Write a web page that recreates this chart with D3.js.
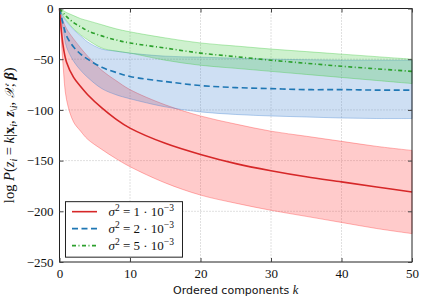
<!DOCTYPE html>
<html>
<head>
<meta charset="utf-8">
<script src="https://cdn.jsdelivr.net/npm/d3@7"></script>
<style>
  body { margin: 0; background: #fff; }
  svg text { font-family: "Liberation Serif", "DejaVu Serif", serif; }
</style>
</head>
<body>
<div id="chart"></div>
<script>
// ordered components k
var ks = [0, 0.5, 1, 2, 3, 4, 6, 8, 10, 15, 20, 25, 30, 35, 40, 45, 50];

// sigma^2 = 1e-3
var redMean = [0, -36, -53, -68, -77, -85, -98, -109, -118, -133, -144, -153, -160, -166, -171, -176, -181];
var redLo   = [0, -55, -90, -112, -121, -129, -139, -148, -156, -172, -184, -192, -199, -205, -211, -217, -222];
var redHi   = [0, -12, -20, -30, -39, -47, -61, -71, -80, -95, -106, -114, -121, -126, -131, -136, -140];

// sigma^2 = 2e-3
var blueMean = [0, -15, -27, -38, -45, -50, -58, -63, -67, -72, -76, -78, -79, -80, -80, -80.5, -80.5];
var blueLo   = [0, -20, -38, -52, -61, -68, -79, -85, -89, -97, -102, -104.5, -106, -107, -108, -108.5, -108.5];
var blueHi   = [0, -8, -13, -21, -27, -33, -40, -42, -44, -47, -48, -49, -50, -50.5, -51, -51, -51];

// sigma^2 = 5e-3
var greenMean = [0, -4, -8, -14, -18, -22, -27, -31, -34, -39, -44, -47.5, -51, -54, -57, -59.5, -62];
var greenLo   = [0, -7, -12, -20, -26, -31, -39, -42, -44, -51, -56, -59, -62, -65, -68, -71, -74];
var greenHi   = [0, -2, -4, -7, -10, -12, -16, -20, -23, -29, -34, -37, -40, -42.5, -45, -47.5, -50];

var xTicks = [0, 10, 20, 30, 40, 50];
var yTicks = [0, -50, -100, -150, -200, -250];
var legendExp = ["1", "2", "5"];

var cfg = {
  w: 425, h: 298,
  margin: {top: 8.5, right: 13, bottom: 36, left: 59.5}
};
var graphW = cfg.w - cfg.margin.left - cfg.margin.right;
var graphH = cfg.h - cfg.margin.top - cfg.margin.bottom;

var svg = d3.select("#chart").append("svg")
  .attr("width", cfg.w)
  .attr("height", cfg.h)
  .append("g")
  .attr("transform", "translate(" + cfg.margin.left + "," + cfg.margin.top + ")");

var x = d3.scaleLinear().domain([0, 50]).range([0, graphW]);
var y = d3.scaleLinear().domain([-250, 0]).range([graphH, 0]);

// grid
svg.append("g").selectAll("line").data(xTicks.slice(1, -1)).join("line")
  .attr("x1", d => x(d)).attr("x2", d => x(d))
  .attr("y1", 0).attr("y2", graphH)
  .attr("stroke", "#b0b0b0").attr("stroke-width", 0.8).attr("stroke-dasharray", "1,2");
svg.append("g").selectAll("line").data(yTicks.slice(1, -1)).join("line")
  .attr("y1", d => y(d)).attr("y2", d => y(d))
  .attr("x1", 0).attr("x2", graphW)
  .attr("stroke", "#b0b0b0").attr("stroke-width", 0.8).attr("stroke-dasharray", "1,2");

var series = [
  {mean: redMean, lo: redLo, hi: redHi, color: "#d62728", fill: "#ff3030", dash: null},
  {mean: blueMean, lo: blueLo, hi: blueHi, color: "#1f77b4", fill: "#3c7fd0", dash: "6,3.5"},
  {mean: greenMean, lo: greenLo, hi: greenHi, color: "#2ca02c", fill: "#3cc83c", dash: "4,2.5,1,2.5"}
];

var curve = d3.curveCatmullRom.alpha(0.5);
var area = d3.area().curve(curve)
  .x((d, i) => x(ks[i]));
var line = d3.line().curve(curve)
  .x((d, i) => x(ks[i]))
  .y(d => y(d));

series.forEach(function(s) {
  var idx = ks.map((k, i) => i);
  svg.append("path")
    .datum(idx)
    .attr("fill", s.fill)
    .attr("fill-opacity", 0.25)
    .attr("stroke", s.fill)
    .attr("stroke-opacity", 0.45)
    .attr("stroke-width", 0.8)
    .attr("d", area.y0(i => y(s.lo[i])).y1(i => y(s.hi[i])));
});

series.forEach(function(s) {
  svg.append("path")
    .datum(s.mean)
    .attr("fill", "none")
    .attr("stroke", s.color)
    .attr("stroke-width", 1.6)
    .attr("stroke-dasharray", s.dash)
    .attr("d", line);
});

// frame
svg.append("rect")
  .attr("width", graphW).attr("height", graphH)
  .attr("fill", "none").attr("stroke", "#222").attr("stroke-width", 1);

// axes with inward ticks
var xAxis = svg.append("g")
  .attr("transform", "translate(0," + graphH + ")")
  .call(d3.axisBottom(x).tickValues(xTicks).tickSize(-4).tickPadding(7)
    .tickFormat(d => d < 0 ? "\u2212" + (-d) : d));
var yAxis = svg.append("g")
  .call(d3.axisLeft(y).tickValues(yTicks).tickSize(-4).tickPadding(6)
    .tickFormat(d => d < 0 ? "\u2212" + (-d) : d));
svg.append("g")
  .call(d3.axisTop(x).tickValues(xTicks).tickSize(-4).tickFormat(""));
svg.append("g").attr("transform", "translate(" + graphW + ",0)")
  .call(d3.axisRight(y).tickValues(yTicks).tickSize(-4).tickFormat(""));

svg.selectAll(".domain").remove();
svg.selectAll(".tick line").attr("stroke", "#444");
svg.selectAll(".tick text")
  .attr("font-family", "'Liberation Serif', serif")
  .attr("font-size", "13px")
  .attr("fill", "#111");

// x label
svg.append("text")
  .attr("x", graphW / 2).attr("y", graphH + 32)
  .attr("text-anchor", "middle")
  .style("font-family", "'DejaVu Sans', sans-serif")
  .attr("font-size", "11px")
  .attr("fill", "#111")
  .html("Ordered components <tspan font-family=\"Liberation Serif\" font-style=\"italic\" font-size=\"12.5px\">k</tspan>");

// y label
var yl = svg.append("text")
  .attr("transform", "translate(" + (-46) + "," + (graphH / 2) + ") rotate(-90)")
  .attr("text-anchor", "middle")
  .attr("font-size", "14.5px")
  .attr("fill", "#111");
yl.append("tspan").text("log ");
yl.append("tspan").attr("font-style", "italic").text("P");
yl.append("tspan").text("(");
yl.append("tspan").attr("font-style", "italic").text("z");
yl.append("tspan").attr("font-style", "italic").attr("font-size", "10px").attr("dy", 3).text("i");
yl.append("tspan").attr("dy", -3).text(" = ");
yl.append("tspan").attr("font-style", "italic").text("k");
yl.append("tspan").text("|");
yl.append("tspan").attr("font-weight", "bold").text("x");
yl.append("tspan").attr("font-style", "italic").attr("font-size", "10px").attr("dy", 3).text("i");
yl.append("tspan").attr("dy", -3).text(", ");
yl.append("tspan").attr("font-weight", "bold").attr("font-style", "italic").text("z");
yl.append("tspan").attr("font-size", "10px").attr("dy", 3).text("\\");
yl.append("tspan").attr("font-style", "italic").attr("font-size", "10px").text("i");
yl.append("tspan").attr("dy", -3).text(", ");
yl.append("tspan").attr("font-style", "italic").style("font-family", "'DejaVu Serif', serif").attr("font-size", "13px").text("\uD835\uDCB3");
yl.append("tspan").text("; ");
yl.append("tspan").attr("font-weight", "bold").attr("font-style", "italic").text("\u03B2");
yl.append("tspan").text(")");

// legend
var lg = svg.append("g").attr("transform", "translate(" + (x(0.85)) + "," + (y(-190.5)) + ")");
lg.append("rect")
  .attr("width", 117).attr("height", 55.5)
  .attr("fill", "#fff").attr("stroke", "#222").attr("stroke-width", 1);
series.forEach(function(s, i) {
  var row = lg.append("g").attr("transform", "translate(0," + (10 + i * 17) + ")");
  row.append("line")
    .attr("x1", 6.5).attr("x2", 31.5)
    .attr("stroke", s.color).attr("stroke-width", 1.6)
    .attr("stroke-dasharray", s.dash);
  var t = row.append("text").attr("x", 43).attr("y", 4.5)
    .attr("font-size", "13px").attr("fill", "#111");
  t.append("tspan").attr("font-style", "italic").text("\u03C3");
  t.append("tspan").attr("font-size", "9.5px").attr("dy", -5).text("2");
  t.append("tspan").attr("dy", 5).text(" = " + legendExp[i] + " \u00B7 10");
  t.append("tspan").attr("font-size", "9.5px").attr("dy", -5).text("\u22123");
});
</script>
</body>
</html>
